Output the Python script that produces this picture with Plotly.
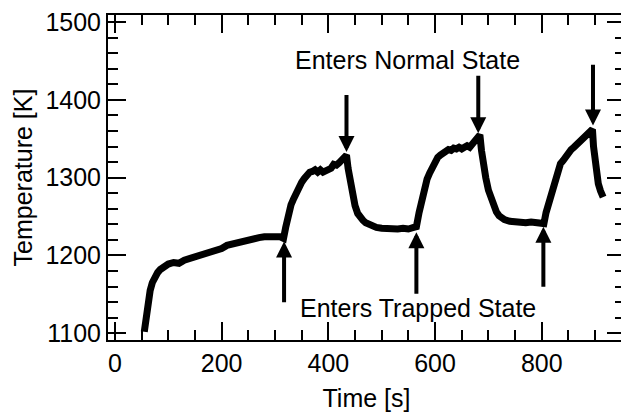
import plotly.graph_objects as go

# Temperature trace [s], [K]
time_s = [55, 57, 60, 63, 66, 70, 75, 80, 85, 90, 100, 110, 120, 130, 140, 150, 160, 170, 180, 190,
          200, 210, 220, 230, 240, 250, 260, 270, 280, 290, 300, 310, 316,
          320, 325, 330, 335, 340, 345, 350, 355, 360, 365, 370, 375, 380, 385, 390, 395, 400, 405,
          410, 415, 420, 425, 430, 434,
          437, 440, 445, 450, 455, 460, 465, 470, 480, 490, 500, 510, 520, 530, 540, 550, 560, 565,
          570, 575, 580, 585, 590, 595, 600, 605, 610, 615, 620, 625, 630, 635, 640, 645, 650, 655,
          660, 665, 670, 675, 680, 684,
          687, 690, 695, 700, 705, 710, 715, 720, 730, 740, 750, 760, 770, 780, 790, 800, 804,
          808, 812, 816, 820, 825, 830, 835, 840, 845, 850, 855, 860, 865, 870, 875, 880, 885, 890, 895,
          897, 900, 903, 906, 910, 915]
temp_K = [1102, 1115, 1130, 1142, 1155, 1165, 1173, 1178, 1182, 1185, 1189, 1191, 1190, 1194, 1196, 1198, 1200, 1203, 1204, 1208,
          1209, 1213, 1215, 1216, 1219, 1220, 1222, 1223, 1224, 1225, 1224, 1224, 1222,
          1236, 1252, 1265, 1273, 1281, 1287, 1294, 1299, 1304, 1307, 1308, 1310, 1307, 1310, 1307, 1309, 1311, 1312,
          1317, 1316, 1319, 1322, 1324, 1329,
          1312, 1298, 1280, 1264, 1254, 1248, 1245, 1242, 1238, 1236, 1235, 1234, 1235, 1234, 1235, 1234, 1236, 1237,
          1255, 1271, 1286, 1298, 1306, 1314, 1321, 1326, 1329, 1332, 1333, 1336, 1335, 1338, 1337, 1339, 1337, 1340,
          1341, 1339, 1343, 1346, 1349, 1355,
          1335, 1318, 1300, 1284, 1272, 1263, 1256, 1251, 1246, 1244, 1243, 1243, 1242, 1243, 1242, 1241, 1241,
          1255, 1265, 1275, 1287, 1300, 1311, 1318, 1322, 1328, 1333, 1336, 1339, 1342, 1345, 1348, 1351, 1354, 1357, 1362,
          1340, 1318, 1303, 1292, 1283, 1275]

# Arrows: "Enters Normal State" (pointing down) and "Enters Trapped State" (pointing up)
normal_t = [434, 681, 896]
normal_tip = [1333, 1357, 1367]
normal_tail = [1408, 1433, 1447]
trapped_t = [317, 565, 803]
trapped_tip = [1218, 1230, 1237]
trapped_tail = [1138, 1149, 1158]

labels = ["Enters Normal State", "Enters Trapped State"]
label_t = [549, 568]
label_T = [1451, 1132]

x_ticks = [0, 200, 400, 600, 800]
y_ticks = [1100, 1200, 1300, 1400, 1500]

FONT = "Liberation Sans, Arial, Helvetica, sans-serif"
FS = 25

fig = go.Figure()
fig.add_trace(go.Scatter(x=time_s, y=temp_K, mode="lines",
                         line=dict(color="black", width=7), showlegend=False))

anns = []
for t, tip, tail in zip(normal_t + trapped_t, normal_tip + trapped_tip, normal_tail + trapped_tail):
    anns.append(dict(x=t, y=tip, ax=t, ay=tail, xref="x", yref="y", axref="x", ayref="y",
                     showarrow=True, arrowhead=2, arrowwidth=4, arrowsize=0.8,
                     arrowcolor="black", standoff=0, text=""))
for txt, t, T in zip(labels, label_t, label_T):
    anns.append(dict(x=t, y=T, xref="x", yref="y", text=txt, showarrow=False,
                     font=dict(size=FS, color="black", family=FONT)))

minor_style = dict(ticks="inside", ticklen=10, tickwidth=2, tickcolor="black", showgrid=False)
axis_common = dict(showline=True, linecolor="black", linewidth=2, mirror="allticks",
                   ticks="inside", ticklen=18, tickwidth=2, tickcolor="black",
                   showgrid=False, zeroline=False, automargin=False,
                   ticklabeloverflow="allow",
                   tickfont=dict(size=FS, color="black", family=FONT))

# page has an 8px body margin, so the figure is sized and placed to compensate
fig.update_layout(
    width=621, height=410,
    margin=dict(l=100, r=4, t=7, b=78),
    paper_bgcolor="white", plot_bgcolor="white",
    font=dict(family=FONT, color="black", size=FS),
    annotations=anns,
    xaxis=dict(range=[-13, 956], tickvals=x_ticks, minor=dict(dtick=50, **minor_style),
               title=dict(text="Time [s]", font=dict(size=FS, family=FONT), standoff=13),
               **axis_common),
    yaxis=dict(range=[1091.4, 1509], tickvals=y_ticks, minor=dict(dtick=20, **minor_style),
               title=dict(text="Temperature [K]", font=dict(size=FS, family=FONT), standoff=6),
               **axis_common),
)

fig.write_html("out.html")
